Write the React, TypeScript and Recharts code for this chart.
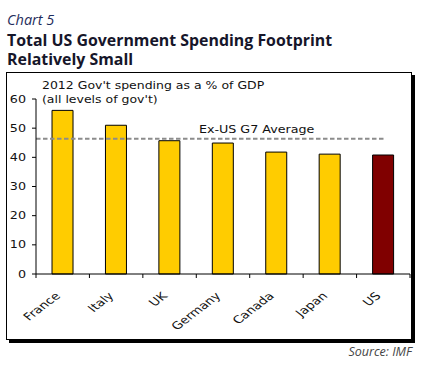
import React from "react";
import { BarChart, Bar, XAxis, YAxis, Cell, ReferenceLine } from "recharts";

const countries = ["France", "Italy", "UK", "Germany", "Canada", "Japan", "US"];
const spending = [56.1, 51.0, 45.7, 44.9, 41.8, 41.1, 40.8];
const yTicks = [0, 10, 20, 30, 40, 50, 60];
const g7Average = 46.4;
const highlight = "US";

const data = countries.map((c, i) => ({ country: c, value: spending[i] }));

const TEXT_FONT = "'DejaVu Sans', Verdana, sans-serif";
const STRETCH = 1.27;

const YTick = (props: any) => {
  const { x, y, payload } = props;
  return (
    <text
      transform={`translate(${x},${y}) scale(${STRETCH},1)`}
      textAnchor="end"
      dy="0.36em"
      fontSize={10}
      fontFamily={TEXT_FONT}
      fill="#111"
    >
      {payload.value}
    </text>
  );
};

const XTick = (props: any) => {
  const { x, y, payload, index } = props;
  const half = payload && payload.offset ? payload.offset : 374 / 7 / 2;
  const last = index === countries.length - 1;
  return (
    <g>
      <line x1={x - half} x2={x - half} y1={y - 4} y2={y} stroke="#000" strokeWidth={1} />
      {last && <line x1={x + half} x2={x + half} y1={y - 4} y2={y} stroke="#000" strokeWidth={1} />}
      <text
        transform={`translate(${x - 5},${y + 16}) scale(1.3,1) rotate(-45)`}
        textAnchor="end"
        dy="0.35em"
        fontSize={10.5}
        fontFamily={TEXT_FONT}
        fill="#111"
      >
        {payload.value}
      </text>
    </g>
  );
};

const AvgLine = (props: any) => {
  const { x1, x2, y1 } = props;
  return (
    <line
      x1={x1}
      x2={x2 - 25}
      y1={y1}
      y2={y1}
      stroke="#8c8c8c"
      strokeWidth={2}
      strokeDasharray="4.5 2.5"
    />
  );
};

const AvgLabel = (props: any) => {
  const { viewBox } = props;
  const cx = viewBox.x + viewBox.width * 0.59;
  return (
    <text
      transform={`translate(${cx},${viewBox.y - 6}) scale(${STRETCH},1)`}
      textAnchor="middle"
      fontSize={10}
      fontFamily={TEXT_FONT}
      fill="#111"
    >
      Ex-US G7 Average
    </text>
  );
};

export default function App() {
  return (
    <div
      style={{
        position: "absolute",
        left: 0,
        top: 0,
        width: 436,
        height: 384,
        background: "#fff",
        overflow: "hidden",
      }}
    >
      <svg width={436} height={70} style={{ position: "absolute", left: 0, top: 0 }}>
        <text x={7} y={25} fontFamily="'Open Sans', sans-serif" fontStyle="italic" fontSize={14.5} fill="#1f2d5c">
          Chart 5
        </text>
        <text fontFamily="'Open Sans', sans-serif" fontWeight="bold" fontSize={15.9} fill="#16162a">
          <tspan x={7} y={45.5}>Total US Government Spending Footprint</tspan>
          <tspan x={7} y={64.5}>Relatively Small</tspan>
        </text>
      </svg>
      <div
        style={{
          position: "absolute",
          left: 6,
          top: 72,
          width: 404,
          height: 266,
          border: "1px solid #000",
          boxShadow: "3px 3px 0 #000",
          background: "#fff",
        }}
      />
      <div style={{ position: "absolute", left: 7, top: 73 }}>
        <BarChart
          width={404}
          height={266}
          data={data}
          margin={{ top: 26, right: 1, bottom: 0, left: 0 }}
          barCategoryGap="30%"
        >
          <XAxis
            dataKey="country"
            height={65}
            interval={0}
            tickLine={false}
            tickSize={4}
            tickMargin={0}
            axisLine={{ stroke: "#000", strokeWidth: 1 }}
            tick={<XTick />}
          />
          <YAxis
            width={29}
            domain={[0, 60]}
            ticks={yTicks}
            interval={0}
            tickSize={4}
            tickMargin={6}
            axisLine={{ stroke: "#000", strokeWidth: 1 }}
            tickLine={{ stroke: "#000", strokeWidth: 1 }}
            tick={<YTick />}
          />
          <Bar dataKey="value" stroke="#000" strokeWidth={1} isAnimationActive={false}>
            {data.map((d) => (
              <Cell key={d.country} fill={d.country === highlight ? "#800000" : "#ffcc00"} />
            ))}
          </Bar>
          <ReferenceLine
            y={g7Average}
            shape={<AvgLine />}
            label={<AvgLabel />}
            isFront
          />
        </BarChart>
      </div>
      <svg width={436} height={384} style={{ position: "absolute", left: 0, top: 0, pointerEvents: "none" }}>
        <text fontSize={10} fontFamily={TEXT_FONT} fill="#111" transform="scale(1.25,1)">
          <tspan x={42 / 1.25} y={89}>2012 Gov't spending as a % of GDP</tspan>
          <tspan x={42 / 1.25} y={103}>(all levels of gov't)</tspan>
        </text>
        <text
          x={412}
          y={356}
          textAnchor="end"
          fontFamily="'Open Sans', sans-serif"
          fontStyle="italic"
          fontSize={12.5}
          fill="#444"
        >
          Source: IMF
        </text>
      </svg>
    </div>
  );
}
